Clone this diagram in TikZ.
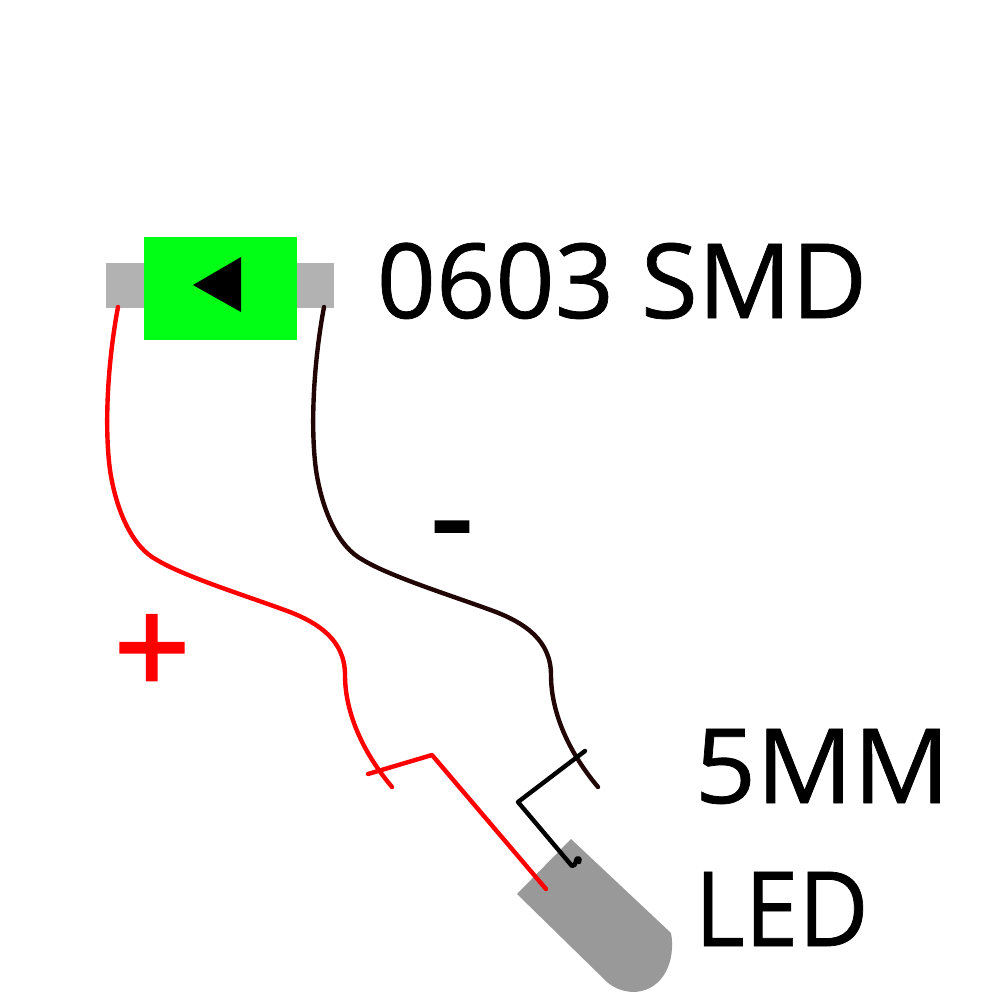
\documentclass[tikz,border=0pt]{standalone}
\usepackage{fontspec}
\setmainfont{Open Sans}
\newfontfamily\lblfont[FakeBold=0.7]{Open Sans}
\newfontfamily\signfont[FakeBold=2]{Open Sans}
\definecolor{pad}{HTML}{B2B2B2}
\definecolor{body}{HTML}{00FF14}
\definecolor{lens}{HTML}{999999}
\definecolor{wiredark}{HTML}{220606}
\tikzset{
  wire/.style={line width=1.25pt,line cap=round,line join=round},
  lbl/.style={inner sep=0pt,anchor=base west,font=\lblfont\fontsize{29.5pt}{30pt}\selectfont},
  sign/.style={inner sep=0pt,font=\signfont\fontsize{38pt}{38pt}\selectfont}
}
\begin{document}
\begin{tikzpicture}[x=0.01cm,y=-0.01cm]
\useasboundingbox (0,0) rectangle (1000,1000);
\fill[pad] (106,263) rectangle (334,308);
\fill[body] (144,237) rectangle (297,340);
\fill[black] (193,285) -- (241,257) -- (241,312) -- cycle;
\fill[lens] (571,839) -- (671,933) .. controls (676,960) and (664,990) .. (635,992) .. controls (625,992) and (615,989) .. (607,982) -- (517,894) -- cycle;
\draw[wire,red] (118,307) .. controls (108,360) and (104,425) .. (110,470) .. controls (116,510) and (132,547) .. (157,560) .. controls (185,577) and (250,597) .. (290,612) .. controls (318,623) and (345,640) .. (345,675) .. controls (345,715) and (365,755) .. (392,787);
\draw[wire,wiredark] (324,307) .. controls (314,360) and (310,425) .. (316,470) .. controls (322,510) and (338,547) .. (363,560) .. controls (391,577) and (456,597) .. (496,612) .. controls (524,623) and (551,640) .. (551,675) .. controls (551,715) and (571,755) .. (598,787);
\draw[wire,red] (368,774) -- (432,755) -- (546,889);
\draw[wire,black] (585,751) -- (518,802) -- (572,866) .. controls (577,866) and (575,858) .. (578,858) .. controls (580,858) and (580,860) .. (579,862);
\node[lbl] (smd) at (376,318) {0603 SMD};
\node[lbl,xscale=1.035] (five) at (694,803) {5MM};
\node[lbl,xscale=0.93] (led) at (694,946) {LED};
\node[sign] (minus) at (452,542) {-};
\node[sign,text=red] (plus) at (152,655) {+};
\end{tikzpicture}
\end{document}
